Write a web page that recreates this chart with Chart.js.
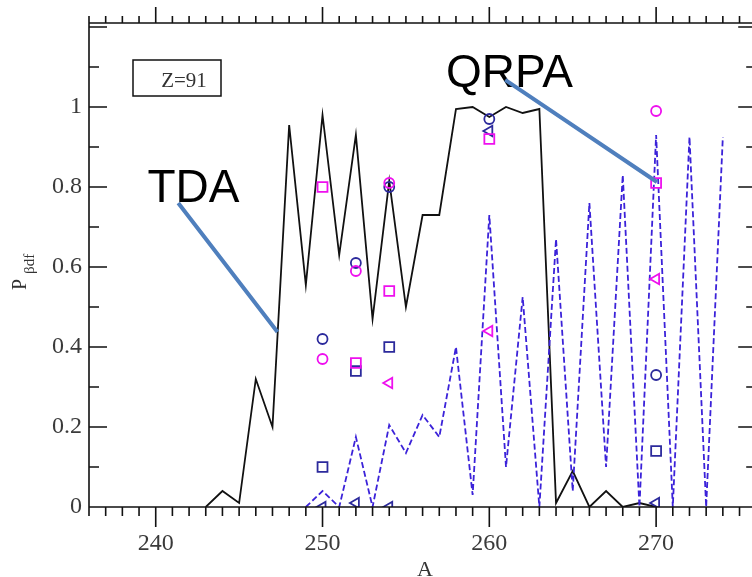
<!DOCTYPE html>
<html>
<head>
<meta charset="utf-8">
<script src="https://cdn.jsdelivr.net/npm/chart.js@4.4.1/dist/chart.umd.min.js"></script>
<style>
html, body { margin: 0; padding: 0; background: #fff; overflow: hidden; }
#wrap { width: 752px; height: 577px; overflow: hidden; }
</style>
</head>
<body>
<div id="wrap"><canvas id="myChart" width="766" height="577"></canvas></div>
<script>
// mass number A and beta-delayed fission probability, Z=91
var tdaA = [243, 244, 245, 246, 247, 248, 249, 250, 251, 252, 253, 254, 255, 256,
            257, 258, 259, 260, 261, 262, 263, 264, 265, 266, 267, 268, 269, 270];
var tdaP = [0, 0.04, 0.01, 0.32, 0.2, 0.955, 0.555, 0.98, 0.63, 0.93, 0.47, 0.815, 0.5, 0.73,
            0.73, 0.995, 1.0, 0.975, 1.0, 0.985, 0.995, 0.01, 0.09, 0.0, 0.04, 0.0, 0.01, 0.0];

var qrpaA = [249, 250, 251, 252, 253, 254, 255, 256, 257, 258, 259, 260, 261,
             262, 263, 264, 265, 266, 267, 268, 269, 270, 271, 272, 273, 274];
var qrpaP = [0, 0.04, 0, 0.175, 0, 0.205, 0.135, 0.23, 0.175, 0.4, 0.03, 0.73, 0.1,
             0.525, 0, 0.67, 0.04, 0.76, 0.1, 0.83, 0, 0.93, 0, 0.925, 0, 0.925];

// other calculations / data shown as open symbols
var magCircleA = [250, 252, 254, 270];
var magCircleP = [0.37, 0.59, 0.81, 0.99];
var blueCircleA = [250, 252, 254, 260, 270];
var blueCircleP = [0.42, 0.61, 0.80, 0.97, 0.33];
var magSquareA = [250, 252, 254, 260, 270];
var magSquareP = [0.80, 0.36, 0.54, 0.92, 0.81];
var blueSquareA = [250, 252, 254, 270];
var blueSquareP = [0.10, 0.34, 0.40, 0.14];
var magTriA = [254, 260, 270];
var magTriP = [0.31, 0.44, 0.57];
var blueTriA = [250, 252, 254, 260, 270];
var blueTriP = [0.0, 0.01, 0.0, 0.94, 0.01];

var xTicks = [240, 250, 260, 270];
var yTicks = [0, 0.2, 0.4, 0.6, 0.8, 1];
var yTickLabels = ['0', '0.2', '0.4', '0.6', '0.8', '1'];

var MAGENTA = '#ee10ee';
var NAVY = '#2c2a9c';
var DASHBLUE = '#3b22d9';
var serif = '"Liberation Serif", "Times New Roman", serif';

function pts(xs, ys) {
    return xs.map(function (x, i) { return { x: x, y: ys[i] }; });
}

function markers(label, xs, ys, style, color, r) {
    return {
        label: label,
        data: pts(xs, ys),
        showLine: false,
        pointStyle: style,
        pointRotation: style === 'triangle' ? -90 : 0,
        pointRadius: r,
        pointHoverRadius: r,
        pointBorderWidth: 1.8,
        pointBorderColor: color,
        pointBackgroundColor: 'rgba(0,0,0,0)',
        order: 1
    };
}

// frame, inner/outer tick marks, labels and annotations
var decor = {
    id: 'decor',
    afterDatasetsDraw: function (chart) {
        var ctx = chart.ctx, xs = chart.scales.x, ys = chart.scales.y, a = chart.chartArea;
        ctx.save();
        ctx.strokeStyle = '#111';
        ctx.lineWidth = 1.6;
        ctx.beginPath();
        ctx.moveTo(a.left, a.bottom); ctx.lineTo(a.left, a.top); ctx.lineTo(a.right, a.top);
        ctx.lineTo(a.right, a.bottom); ctx.lineTo(a.left, a.bottom);
        var v, px, py, major;
        for (v = 236; v <= 276; v++) {
            px = xs.getPixelForValue(v);
            major = v % 10 === 0;
            ctx.moveTo(px, a.bottom); ctx.lineTo(px, a.bottom + (major ? 20 : 9));
            ctx.moveTo(px, a.top); ctx.lineTo(px, a.top - (major ? 16 : 7));
        }
        for (v = 0; v <= 12; v++) {
            py = ys.getPixelForValue(v / 10);
            major = v % 2 === 0;
            ctx.moveTo(a.left, py); ctx.lineTo(a.left + (major ? 18 : 10), py);
            ctx.moveTo(a.right, py); ctx.lineTo(a.right - (major ? 18 : 10), py);
        }
        ctx.stroke();

        // Z=91 box
        ctx.lineWidth = 1.5;
        ctx.strokeRect(a.left + 44, a.top + 37, 88, 36);
        ctx.fillStyle = '#333';
        ctx.font = '21px ' + serif;
        ctx.textAlign = 'center';
        ctx.textBaseline = 'alphabetic';
        ctx.fillText('Z=91', a.left + 95, a.top + 64);

        // y title P_bdf
        ctx.save();
        ctx.translate(26, 267);
        ctx.rotate(-Math.PI / 2);
        ctx.textAlign = 'left';
        ctx.font = '20px ' + serif;
        ctx.fillText('P', -23, 0);
        ctx.font = '15px ' + serif;
        ctx.fillText('\u03b2df', -7, 8);
        ctx.restore();

        // x title
        ctx.font = '22px ' + serif;
        ctx.textAlign = 'center';
        ctx.fillText('A', 425, 576);

        // model labels with pointer lines
        ctx.fillStyle = '#000';
        ctx.font = '46px "Liberation Sans", Arial, sans-serif';
        ctx.textAlign = 'left';
        ctx.fillText('TDA', xs.getPixelForValue(239.5), ys.getPixelForValue(0.7625));
        ctx.fillText('QRPA', xs.getPixelForValue(257.4), ys.getPixelForValue(1.05));

        ctx.strokeStyle = '#4f7fbd';
        ctx.lineWidth = 4;
        ctx.beginPath();
        ctx.moveTo(xs.getPixelForValue(241.35), ys.getPixelForValue(0.76));
        ctx.lineTo(xs.getPixelForValue(247.3), ys.getPixelForValue(0.4375));
        ctx.moveTo(xs.getPixelForValue(260.95), ys.getPixelForValue(1.068));
        ctx.lineTo(xs.getPixelForValue(270.05), ys.getPixelForValue(0.8125));
        ctx.stroke();
        ctx.restore();
    }
};

var chart = new Chart(document.getElementById('myChart'), {
    type: 'scatter',
    data: {
        datasets: [
            markers('magenta circles', magCircleA, magCircleP, 'circle', MAGENTA, 5),
            markers('blue circles', blueCircleA, blueCircleP, 'circle', NAVY, 5),
            markers('magenta squares', magSquareA, magSquareP, 'rect', MAGENTA, 7),
            markers('blue squares', blueSquareA, blueSquareP, 'rect', NAVY, 7),
            markers('magenta triangles', magTriA, magTriP, 'triangle', MAGENTA, 6),
            markers('blue triangles', blueTriA, blueTriP, 'triangle', NAVY, 6),
            {
                label: 'TDA',
                data: pts(tdaA, tdaP),
                showLine: true,
                borderColor: '#111',
                borderWidth: 1.8,
                pointRadius: 0,
                order: 3
            },
            {
                label: 'QRPA',
                data: pts(qrpaA, qrpaP),
                showLine: true,
                borderColor: DASHBLUE,
                borderWidth: 1.8,
                borderDash: [6, 3],
                pointRadius: 0,
                order: 2
            }
        ]
    },
    options: {
        responsive: false,
        animation: false,
        events: [],
        layout: { padding: { top: 23, left: 0, right: 0, bottom: 0 } },
        plugins: {
            legend: { display: false },
            tooltip: { enabled: false }
        },
        scales: {
            x: {
                type: 'linear',
                min: 236,
                max: 276,
                grid: { display: false, drawTicks: false },
                border: { display: false },
                ticks: { color: '#3a3a3a', font: { family: serif, size: 24 }, padding: 22 },
                afterBuildTicks: function (s) { s.ticks = xTicks.map(function (v) { return { value: v }; }); },
                afterFit: function (s) { s.height = 70; }
            },
            y: {
                min: 0,
                max: 1.21,
                grid: { display: false, drawTicks: false },
                border: { display: false },
                ticks: {
                    color: '#3a3a3a',
                    font: { family: serif, size: 24 },
                    padding: 7,
                    callback: function (v) {
                        var i = yTicks.indexOf(v);
                        return i >= 0 ? yTickLabels[i] : '';
                    }
                },
                afterBuildTicks: function (s) { s.ticks = yTicks.map(function (v) { return { value: v }; }); },
                afterFit: function (s) { s.width = 89; }
            }
        }
    },
    plugins: [decor]
});

// the right frame of the original sits just past the picture edge (x ~ 758);
// the canvas is a little wider than the window and clipped by it
var gap = chart.width - chart.chartArea.right;
var wanted = Math.round(758.5 + gap);
if (wanted !== chart.width) {
    chart.resize(wanted, 577);
}
</script>
</body>
</html>
